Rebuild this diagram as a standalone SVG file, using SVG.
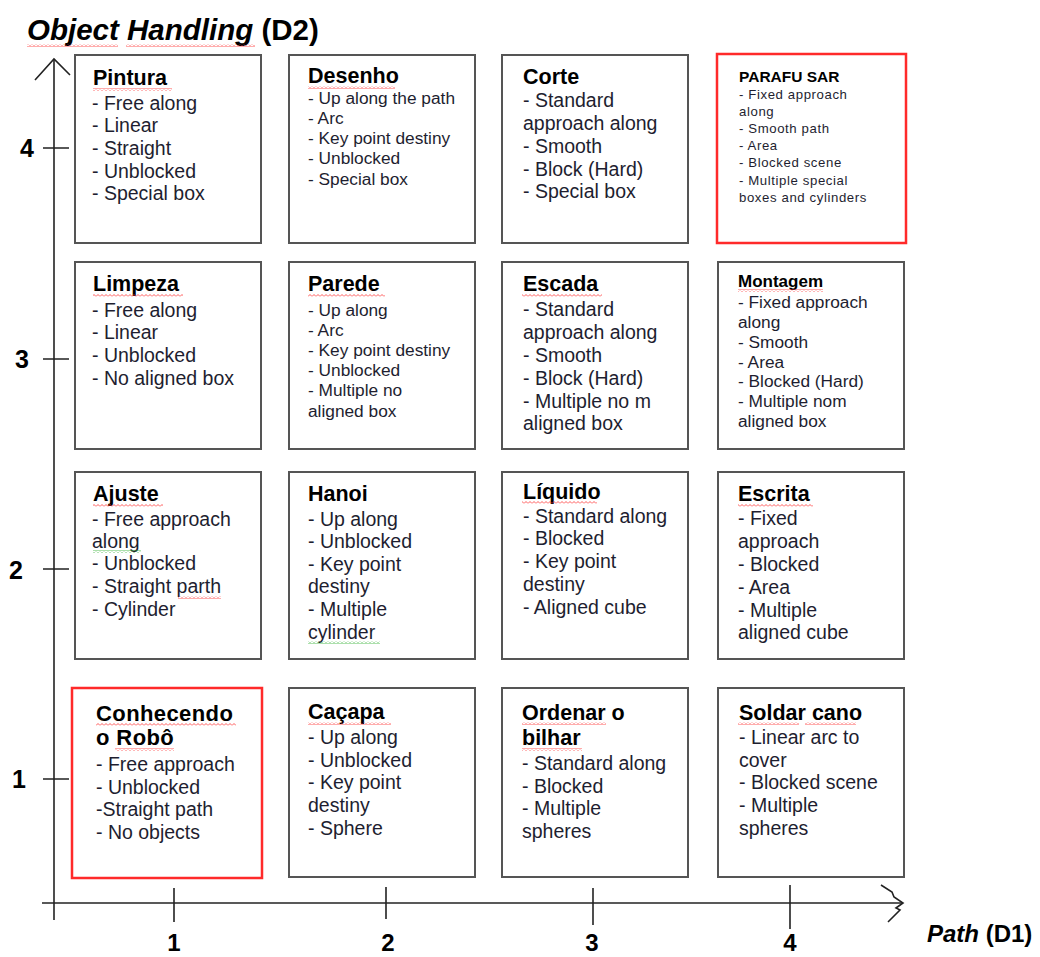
<svg xmlns="http://www.w3.org/2000/svg" width="1040" height="957" viewBox="0 0 1040 957">
<style>
.box{fill:#fff;stroke:#555;stroke-width:2}
.red{fill:#fff;stroke:#ff2a2a;stroke-width:2.5}
text{font-family:"Liberation Sans",Arial,sans-serif}
.t{font-size:21.5px;font-weight:bold;fill:#000}
.tm{font-size:17px;font-weight:bold;fill:#000}
.tp{font-size:15.5px;font-weight:bold;fill:#000}
.b{font-size:19.5px;fill:#1e1e30}
.s{font-size:17.3px;fill:#1e1e30}
.xs{font-size:13.2px;fill:#1e1e30;letter-spacing:0.6px}
.ax{font-size:25px;font-weight:bold;fill:#000}
.axb{font-size:24px;font-weight:bold;fill:#000}
.axl{stroke:#222;stroke-width:1.6;fill:none}
.sqr{fill:url(#sqr)}
.sqg{fill:url(#sqg)}
</style>
<defs>
<pattern id="sqr" patternUnits="userSpaceOnUse" width="4" height="3"><path d="M0 2.5 L2 0.5 L4 2.5" fill="none" stroke="#ff3030" stroke-width="0.8"/></pattern>
<pattern id="sqg" patternUnits="userSpaceOnUse" width="4" height="3"><path d="M0 2.5 L2 0.5 L4 2.5" fill="none" stroke="#30b030" stroke-width="0.8"/></pattern>
</defs>
<rect width="1040" height="957" fill="#fff"/>

<g id="title">
<text x="27" y="40" style="font-size:29.5px;font-weight:bold;fill:#000"><tspan font-style="italic">Object Handling</tspan> (D2)</text>
<rect class="sqr" x="27" y="44" width="91" height="3"/>
<rect class="sqr" x="126" y="44" width="129" height="3"/>
</g>

<g id="axes">
<path class="axl" d="M54 60 L54 920"/>
<path class="axl" d="M35 80 L54 59 L70 75"/>
<path class="axl" d="M42 903 L902 903"/>
<path class="axl" d="M881 885 L892 892 L894 897 L903 903 L896 908 L900 910 L888 922"/>
<path class="axl" stroke-width="2" d="M43 148 L69 148 M43 359 L69 359 M43 569 L69 569 M43 779 L69 779"/>
<path class="axl" stroke-width="2" d="M174 888 L174 922 M386 887 L386 919 M790 885 L790 929"/>
<path class="axl" stroke-width="3" d="M593 888 L593 925"/>
<text class="ax" x="20" y="157">4</text>
<text class="ax" x="15" y="368">3</text>
<text class="ax" x="9" y="579">2</text>
<text class="ax" x="12" y="788">1</text>
<text class="axb" x="174" y="951" text-anchor="middle">1</text>
<text class="axb" x="388" y="951" text-anchor="middle">2</text>
<text class="axb" x="592" y="951" text-anchor="middle">3</text>
<text class="axb" x="790" y="951" text-anchor="middle">4</text>
<text x="927" y="942" style="font-size:24px;font-weight:bold;fill:#000"><tspan font-style="italic">Path</tspan> (D1)</text>
</g>

<g id="pintura">
<rect class="box" x="75" y="55" width="186" height="188"/>
<text class="t" x="93" y="85">Pintura</text>
<rect class="sqr" x="93" y="88" width="79" height="3"/>
<text class="b" x="92" y="110">- Free along</text>
<text class="b" x="92" y="132">- Linear</text>
<text class="b" x="92" y="155">- Straight</text>
<text class="b" x="92" y="178">- Unblocked</text>
<text class="b" x="92" y="200">- Special box</text>
</g>

<g id="desenho">
<rect class="box" x="289" y="55" width="186" height="188"/>
<text class="t" x="308" y="83">Desenho</text>
<rect class="sqr" x="308" y="86" width="87" height="3"/>
<text class="s" x="308" y="104">- Up along the path</text>
<text class="s" x="308" y="124">- Arc</text>
<text class="s" x="308" y="144">- Key point destiny</text>
<text class="s" x="308" y="164">- Unblocked</text>
<text class="s" x="308" y="185">- Special box</text>
</g>

<g id="corte">
<rect class="box" x="502" y="55" width="186" height="188"/>
<text class="t" x="523" y="84">Corte</text>
<text class="b" x="523" y="107">- Standard</text>
<text class="b" x="523" y="130">approach along</text>
<text class="b" x="523" y="153">- Smooth</text>
<text class="b" x="523" y="176">- Block (Hard)</text>
<text class="b" x="523" y="198">- Special box</text>
</g>

<g id="parafusar">
<rect class="red" x="717" y="54" width="189" height="189"/>
<text class="tp" x="739" y="82">PARAFU SAR</text>
<text class="xs" x="739" y="99">- Fixed  approach</text>
<text class="xs" x="739" y="116">along</text>
<text class="xs" x="739" y="133">- Smooth path</text>
<text class="xs" x="739" y="150">- Area</text>
<text class="xs" x="739" y="167">- Blocked scene</text>
<text class="xs" x="739" y="185">- Multiple special</text>
<text class="xs" x="739" y="202">boxes and cylinders</text>
</g>

<g id="limpeza">
<rect class="box" x="75" y="262" width="186" height="187"/>
<text class="t" x="93" y="291">Limpeza</text>
<rect class="sqr" x="93" y="294" width="90" height="3"/>
<text class="b" x="92" y="317">- Free along</text>
<text class="b" x="92" y="339">- Linear</text>
<text class="b" x="92" y="362">- Unblocked</text>
<text class="b" x="92" y="385">- No aligned box</text>
</g>

<g id="parede">
<rect class="box" x="289" y="262" width="186" height="187"/>
<text class="t" x="308" y="291">Parede</text>
<rect class="sqr" x="308" y="294" width="77" height="3"/>
<text class="s" x="308" y="316">- Up along</text>
<text class="s" x="308" y="336">- Arc</text>
<text class="s" x="308" y="356">- Key point destiny</text>
<text class="s" x="308" y="376">- Unblocked</text>
<text class="s" x="308" y="396">- Multiple no</text>
<text class="s" x="308" y="417">aligned box</text>
</g>

<g id="escada">
<rect class="box" x="502" y="262" width="186" height="187"/>
<text class="t" x="523" y="291">Escada</text>
<rect class="sqr" x="522" y="294" width="80" height="3"/>
<text class="b" x="523" y="316">- Standard</text>
<text class="b" x="523" y="339">approach along</text>
<text class="b" x="523" y="362">- Smooth</text>
<text class="b" x="523" y="385">- Block (Hard)</text>
<text class="b" x="523" y="408">- Multiple no m</text>
<text class="b" x="523" y="430">aligned box</text>
</g>

<g id="montagem">
<rect class="box" x="718" y="262" width="186" height="187"/>
<text class="tm" x="738" y="287">Montagem</text>
<rect class="sqr" x="738" y="289" width="85" height="3"/>
<text class="s" x="738" y="308">- Fixed approach</text>
<text class="s" x="738" y="328">along</text>
<text class="s" x="738" y="348">- Smooth</text>
<text class="s" x="738" y="368">- Area</text>
<text class="s" x="738" y="387">- Blocked (Hard)</text>
<text class="s" x="738" y="407">- Multiple nom</text>
<text class="s" x="738" y="427">aligned box</text>
</g>

<g id="ajuste">
<rect class="box" x="75" y="472" width="186" height="187"/>
<text class="t" x="93" y="501">Ajuste</text>
<rect class="sqr" x="93" y="504" width="70" height="3"/>
<text class="b" x="92" y="526">- Free approach</text>
<text class="b" x="92" y="548">along</text>
<rect class="sqg" x="93" y="550" width="48" height="3"/>
<text class="b" x="92" y="570">- Unblocked</text>
<text class="b" x="92" y="593">- Straight parth</text>
<rect class="sqr" x="178" y="596" width="43" height="3"/>
<text class="b" x="92" y="616">- Cylinder</text>
</g>

<g id="hanoi">
<rect class="box" x="289" y="472" width="186" height="187"/>
<text class="t" x="308" y="501">Hanoi</text>
<text class="b" x="308" y="526">- Up along</text>
<text class="b" x="308" y="548">- Unblocked</text>
<text class="b" x="308" y="571">- Key point</text>
<text class="b" x="308" y="593">destiny</text>
<text class="b" x="308" y="616">- Multiple</text>
<text class="b" x="308" y="639">cylinder</text>
<rect class="sqg" x="308" y="641" width="72" height="3"/>
</g>

<g id="liquido">
<rect class="box" x="502" y="472" width="186" height="187"/>
<text class="t" x="523" y="499">Líquido</text>
<rect class="sqr" x="522" y="501" width="75" height="3"/>
<text class="b" x="523" y="523">- Standard along</text>
<text class="b" x="523" y="545">- Blocked</text>
<text class="b" x="523" y="568">- Key point</text>
<text class="b" x="523" y="591">destiny</text>
<text class="b" x="523" y="614">- Aligned cube</text>
</g>

<g id="escrita">
<rect class="box" x="718" y="472" width="186" height="187"/>
<text class="t" x="738" y="501">Escrita</text>
<rect class="sqr" x="738" y="504" width="75" height="3"/>
<text class="b" x="738" y="525">- Fixed</text>
<text class="b" x="738" y="548">approach</text>
<text class="b" x="738" y="571">- Blocked</text>
<text class="b" x="738" y="594">- Area</text>
<text class="b" x="738" y="617">- Multiple</text>
<text class="b" x="738" y="639">aligned cube</text>
</g>

<g id="conhecendo">
<rect class="red" x="72" y="688" width="190" height="190"/>
<text class="t" x="96" y="721" style="font-size:22px;letter-spacing:0.4px">Conhecendo</text>
<rect class="sqr" x="96" y="723" width="140" height="3"/>
<text class="t" x="96" y="745" style="font-size:22px;letter-spacing:0.4px">o Robô</text>
<rect class="sqr" x="115" y="748" width="59" height="3"/>
<text class="b" x="96" y="771">- Free approach</text>
<text class="b" x="96" y="794">- Unblocked</text>
<text class="b" x="96" y="816">-Straight path</text>
<text class="b" x="96" y="839">- No objects</text>
</g>

<g id="cacapa">
<rect class="box" x="289" y="688" width="186" height="189"/>
<text class="t" x="308" y="719">Caçapa</text>
<rect class="sqr" x="308" y="722" width="83" height="3"/>
<text class="b" x="308" y="744">- Up along</text>
<text class="b" x="308" y="767">- Unblocked</text>
<text class="b" x="308" y="789">- Key point</text>
<text class="b" x="308" y="812">destiny</text>
<text class="b" x="308" y="835">- Sphere</text>
</g>

<g id="ordenar">
<rect class="box" x="502" y="688" width="186" height="189"/>
<text class="t" x="522" y="720">Ordenar o</text>
<rect class="sqr" x="522" y="722" width="84" height="3"/>
<text class="t" x="522" y="745">bilhar</text>
<rect class="sqr" x="522" y="748" width="60" height="3"/>
<text class="b" x="522" y="770">- Standard along</text>
<text class="b" x="522" y="793">- Blocked</text>
<text class="b" x="522" y="815">- Multiple</text>
<text class="b" x="522" y="838">spheres</text>
</g>

<g id="soldar">
<rect class="box" x="718" y="688" width="186" height="189"/>
<text class="t" x="739" y="720">Soldar cano</text>
<rect class="sqr" x="738" y="722" width="61" height="3"/>
<rect class="sqr" x="805" y="722" width="51" height="3"/>
<text class="b" x="739" y="744">- Linear arc to</text>
<text class="b" x="739" y="767">cover</text>
<text class="b" x="739" y="789">- Blocked scene</text>
<text class="b" x="739" y="812">- Multiple</text>
<text class="b" x="739" y="835">spheres</text>
</g>
</svg>
